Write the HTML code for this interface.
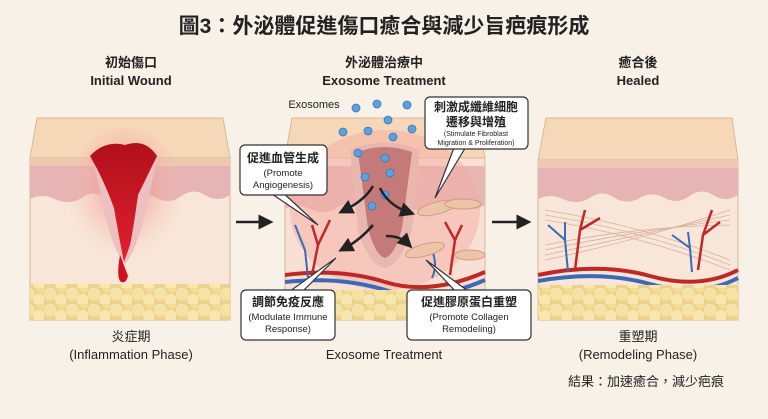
<!DOCTYPE html>
<html><head><meta charset="utf-8"><style>
html,body{margin:0;padding:0;background:#f7f1e8;}
svg{display:block}
text{font-family:"Liberation Sans","Noto Sans CJK TC",sans-serif;fill:#222}
</style></head><body>
<svg width="768" height="419" viewBox="0 0 768 419" xmlns="http://www.w3.org/2000/svg">
<defs>
<radialGradient id="rg" cx="0.5" cy="0.4" r="0.5"><stop offset="0" stop-color="#f08080" stop-opacity="0.9"/><stop offset="1" stop-color="#f5c0b0" stop-opacity="0"/></radialGradient>
<linearGradient id="wound" x1="0" y1="0" x2="0" y2="1"><stop offset="0" stop-color="#b0101a"/><stop offset="1" stop-color="#e02030"/></linearGradient>
<pattern id="fat" width="22" height="16" patternUnits="userSpaceOnUse"><rect width="22" height="16" fill="#ecd28a"/><circle cx="6" cy="6" r="6.5" fill="#f6e2a4"/><circle cx="17" cy="12" r="6" fill="#f8e8b0"/><circle cx="18" cy="1" r="4" fill="#f4dc9a"/></pattern>
<marker id="ah" markerWidth="6" markerHeight="6" refX="3" refY="3" orient="auto"><path d="M0,0L6,3L0,6z" fill="#222"/></marker>
</defs>
<rect width="768" height="419" fill="#f7f1e8"/>
<text x="384" y="33" font-size="21" font-weight="bold" text-anchor="middle">圖3：外泌體促進傷口癒合與減少旨疤痕形成</text>

<g font-size="13" font-weight="bold" text-anchor="middle">
<text x="131" y="67">初始傷口</text><text x="131" y="85">Initial Wound</text>
<text x="384" y="67">外泌體治療中</text><text x="384" y="85">Exosome Treatment</text>
<text x="638" y="67">癒合後</text><text x="638" y="85">Healed</text>
</g>

<!-- LEFT -->
<g>
<polygon points="37,118 223,118 230,158 30,158" fill="#f6d8b8" stroke="#d8b89a"/>
<rect x="30" y="158" width="200" height="162" fill="#f8e6d8" stroke="#d8b89a"/>
<rect x="30" y="158" width="200" height="8" fill="#eec8b0"/>
<path d="M30,166 H230 V195 q-12,8 -25,0 q-12,-8 -25,2 q-12,8 -25,0 q-12,-6 -25,2 q-12,6 -25,-2 q-12,-8 -25,2 q-12,6 -25,0 q-12,-6 -25,0z" fill="#e6b4b4"/>
<rect x="30" y="284" width="200" height="36" fill="url(#fat)"/>
<ellipse cx="125" cy="200" rx="60" ry="72" fill="url(#rg)"/>
<path d="M92,155 Q125,138 158,155 L145,215 Q134,255 125,264 Q114,252 105,215z" fill="#ecc0c0"/>
<path d="M90,156 Q105,140 125,145 Q145,138 157,156 L138,195 Q134,225 130,245 L124,262 Q118,232 114,208 Q104,180 90,156z" fill="url(#wound)"/>
<path d="M120,255 Q125,268 128,276 Q126,284 121,282 Q116,278 120,255z" fill="#d01020"/>
</g>
<path d="M236,222 H266" stroke="#222" stroke-width="2.5" marker-end="url(#ah)"/>

<!-- MIDDLE -->
<g>
<polygon points="292,118 478,118 485,158 285,158" fill="#f6d8b8" stroke="#d8b89a"/>
<rect x="285" y="158" width="200" height="162" fill="#f8e0d4" stroke="#d8b89a"/>
<path d="M285,166 H485 V205 q-12,8 -25,0 q-12,-8 -25,2 q-12,8 -25,0 q-12,-6 -25,2 q-12,6 -25,-2 q-12,-8 -25,2 q-12,6 -25,0 q-12,-6 -25,0z" fill="#e8b8b4"/>
<ellipse cx="385" cy="210" rx="95" ry="80" fill="#f4a8a0" opacity="0.45"/>
<path d="M350,150 Q385,135 420,150 L412,230 Q400,265 385,268 Q368,265 358,230z" fill="#e8b8b0"/>
<path d="M358,152 Q385,142 412,152 L402,228 Q395,255 385,258 Q375,255 368,228z" fill="#c47a78"/>
<path d="M285,275 Q340,268 385,282 T485,272" stroke="#c02828" stroke-width="4" fill="none"/>
<path d="M285,282 Q340,276 385,290 T485,280" stroke="#3a6ab8" stroke-width="4" fill="none"/>
<path d="M312,275 L318,245 L312,225 M318,245 L330,220" stroke="#c02828" stroke-width="2.5" fill="none"/>
<path d="M295,225 L305,250 L308,278" stroke="#3a6ab8" stroke-width="2" fill="none"/>
<path d="M450,275 L455,240 L462,225 M455,240 L445,222" stroke="#c02828" stroke-width="2.5" fill="none"/>
<path d="M432,250 Q438,265 432,278" stroke="#3a6ab8" stroke-width="2" fill="none"/>
<rect x="285" y="290" width="200" height="30" fill="url(#fat)"/>
<g fill="#ecc4a8" stroke="#d09c80"><ellipse cx="437" cy="208" rx="20" ry="6" transform="rotate(-15 437 208)"/><ellipse cx="463" cy="204" rx="18" ry="5"/><ellipse cx="425" cy="250" rx="20" ry="6" transform="rotate(-15 425 250)"/><ellipse cx="470" cy="255" rx="15" ry="5"/></g>
<g fill="#5fa0dc" stroke="#3a78b8" stroke-width="0.8">
<circle cx="356" cy="108" r="4"/><circle cx="377" cy="104" r="4"/><circle cx="407" cy="105" r="4"/><circle cx="388" cy="120" r="4"/><circle cx="343" cy="132" r="4"/><circle cx="368" cy="131" r="4"/><circle cx="393" cy="137" r="4"/><circle cx="412" cy="129" r="4"/><circle cx="358" cy="153" r="4"/><circle cx="385" cy="158" r="4"/><circle cx="365" cy="177" r="4"/><circle cx="390" cy="173" r="4"/><circle cx="385" cy="195" r="4"/><circle cx="372" cy="206" r="4"/>
</g>
<text x="314" y="108" font-size="11" text-anchor="middle">Exosomes</text>
<g stroke="#222" stroke-width="2.5" fill="none" marker-end="url(#ah)">
<path d="M373,186 Q365,200 345,210"/><path d="M380,188 Q388,205 408,212"/><path d="M373,225 Q360,240 345,248"/><path d="M386,236 Q400,236 407,243"/>
</g>
</g>
<path d="M492,222 H524" stroke="#222" stroke-width="2.5" marker-end="url(#ah)"/>

<!-- RIGHT -->
<g>
<polygon points="546,118 732,118 738,160 538,160" fill="#f6d8b8" stroke="#d8b89a"/>
<rect x="538" y="160" width="200" height="160" fill="#f8e6d8" stroke="#d8b89a"/>
<rect x="538" y="160" width="200" height="8" fill="#eec8b0"/>
<path d="M538,168 H738 V195 q-12,8 -25,0 q-12,-8 -25,2 q-12,8 -25,0 q-12,-6 -25,2 q-12,6 -25,-2 q-12,-8 -25,2 q-12,6 -25,0 q-12,-6 -25,0z" fill="#e6b4b4"/>
<g stroke="#d8b0a0" stroke-width="0.8" fill="none">
<path d="M545,210 Q640,225 730,260"/><path d="M545,215 Q640,230 730,265"/><path d="M545,220 Q640,235 730,270"/><path d="M545,260 Q640,240 730,210"/><path d="M545,255 Q640,235 730,215"/><path d="M545,250 Q640,230 730,220"/><path d="M545,245 Q640,226 730,225"/>
</g>
<path d="M538,275 Q600,262 650,276 T738,270" stroke="#c02828" stroke-width="4" fill="none"/>
<path d="M538,281 Q600,270 650,284 T738,278" stroke="#3a6ab8" stroke-width="4" fill="none"/>
<path d="M575,270 L580,230 L585,210 M580,230 L600,218" stroke="#c02828" stroke-width="2.5" fill="none"/>
<path d="M548,225 L565,240 L568,272 M565,240 L565,222" stroke="#3a6ab8" stroke-width="2" fill="none"/>
<path d="M698,270 L703,235 L712,210 M703,235 L720,222" stroke="#c02828" stroke-width="2.5" fill="none"/>
<path d="M672,235 L690,248 L692,272 M690,248 L688,232" stroke="#3a6ab8" stroke-width="2" fill="none"/>
<rect x="538" y="285" width="200" height="35" fill="url(#fat)"/>
</g>

<!-- callouts -->
<g fill="#fff" stroke="#333" stroke-width="1.2">
<polygon points="266,190 280,190 318,225"/>
<rect x="240" y="145" width="87" height="50" rx="5"/>
<polygon points="455,145 467,145 435,198"/>
<rect x="425" y="97" width="103" height="52" rx="5"/>
<polygon points="286,294 300,294 336,258"/>
<rect x="241" y="290" width="94" height="50" rx="5"/>
<polygon points="458,294 472,294 426,260"/>
<rect x="407" y="290" width="124" height="50" rx="5"/>
</g>
<g text-anchor="middle">
<text x="283" y="162" font-size="12" font-weight="bold">促進血管生成</text>
<text x="283" y="176" font-size="9.5">(Promote</text><text x="283" y="188" font-size="9.5">Angiogenesis)</text>
<text x="476" y="111" font-size="12" font-weight="bold">刺激成纖維細胞</text>
<text x="476" y="126" font-size="12" font-weight="bold">遷移與增殖</text>
<text x="476" y="136" font-size="7">(Stimulate Fibroblast</text><text x="476" y="145" font-size="7">Migration &amp; Proliferation)</text>
<text x="288" y="306" font-size="12" font-weight="bold">調節免疫反應</text>
<text x="288" y="320" font-size="9.5">(Modulate Immune</text><text x="288" y="332" font-size="9.5">Response)</text>
<text x="469" y="306" font-size="12" font-weight="bold">促進膠原蛋白重塑</text>
<text x="469" y="320" font-size="9.5">(Promote Collagen</text><text x="469" y="332" font-size="9.5">Remodeling)</text>
</g>

<g font-size="13" text-anchor="middle">
<text x="131" y="341">炎症期</text><text x="131" y="359">(Inflammation Phase)</text>
<text x="384" y="359">Exosome Treatment</text>
<text x="638" y="341">重塑期</text><text x="638" y="359">(Remodeling Phase)</text>
<text x="646" y="386">結果：加速癒合，減少疤痕</text>
</g>
</svg>
</body></html>
